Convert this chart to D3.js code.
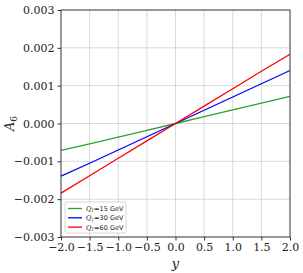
<!DOCTYPE html>
<html>
<head>
<meta charset="utf-8">
<script src="https://cdn.jsdelivr.net/npm/d3@7"></script>
<style>
  body { margin: 0; background: #fff; }
  text { font-family: "DejaVu Serif", serif; }
</style>
</head>
<body>
<div id="chart"></div>
<script>
// Data
var yValues = [-2.0, -1.5, -1.0, -0.5, 0.0, 0.5, 1.0, 1.5, 2.0];
var seriesNames = ["15", "30", "60"];
var seriesColors = ["#2ca02c", "#0000ff", "#ff0000"];
var a6Q15 = [-0.00071, -0.00054, -0.00036, -0.00018, 0, 0.00018, 0.00036, 0.00054, 0.00072];
var a6Q30 = [-0.00139, -0.00105, -0.0007, -0.00035, 0, 0.00035, 0.0007, 0.00105, 0.0014];
var a6Q60 = [-0.00184, -0.00138, -0.00092, -0.00046, 0, 0.00046, 0.00092, 0.00138, 0.00183];
var xTicks = [-2.0, -1.5, -1.0, -0.5, 0.0, 0.5, 1.0, 1.5, 2.0];
var yTicks = [-0.003, -0.002, -0.001, 0.000, 0.001, 0.002, 0.003];

var allSeries = [a6Q15, a6Q30, a6Q60];

var margin = { top: 10, right: 13, bottom: 36, left: 61 },
   width = 303 - margin.left - margin.right,
   height = 273 - margin.top - margin.bottom;

var svg = d3.select("#chart")
   .append("svg")
   .attr("width", 303)
   .attr("height", 273)
   .append("g")
   .attr("transform", "translate(" + margin.left + "," + margin.top + ")");

var xScale = d3.scaleLinear().domain([-2, 2]).range([0, width]);
var yScale = d3.scaleLinear().domain([-0.003, 0.003]).range([height, 0]);

// Grid
svg.append("g")
   .selectAll("line")
   .data(xTicks)
   .enter().append("line")
   .attr("x1", d => xScale(d)).attr("x2", d => xScale(d))
   .attr("y1", 0).attr("y2", height)
   .attr("stroke", "#cfcfcf").attr("stroke-width", 0.8);

svg.append("g")
   .selectAll("line")
   .data(yTicks)
   .enter().append("line")
   .attr("x1", 0).attr("x2", width)
   .attr("y1", d => yScale(d)).attr("y2", d => yScale(d))
   .attr("stroke", "#cfcfcf").attr("stroke-width", 0.8);

// Axes
var xAxis = svg.append("g")
   .attr("transform", "translate(0," + height + ")")
   .call(d3.axisBottom(xScale).tickValues(xTicks).tickSize(3.5).tickPadding(3)
      .tickFormat(d => d3.format(".1f")(d).replace("-", "\u2212")));

var yAxis = svg.append("g")
   .call(d3.axisLeft(yScale).tickValues(yTicks).tickSize(3.5).tickPadding(3)
      .tickFormat(d => d3.format(".3f")(d).replace("-", "\u2212")));

svg.selectAll(".domain").remove();
svg.selectAll(".tick line").attr("stroke", "#000").attr("stroke-width", 0.8);
svg.selectAll(".tick text")
   .attr("fill", "#222")
   .style("font-family", "'DejaVu Serif', serif")
   .style("font-size", "11px");

// Lines
var line = d3.line()
   .x((d, i) => xScale(yValues[i]))
   .y(d => yScale(d));

allSeries.forEach(function (s, i) {
   svg.append("path")
      .datum(s)
      .attr("fill", "none")
      .attr("stroke", seriesColors[i])
      .attr("stroke-width", 1.3)
      .attr("d", line);
});

// Frame
svg.append("rect")
   .attr("x", 0).attr("y", 0)
   .attr("width", width).attr("height", height)
   .attr("fill", "none")
   .attr("stroke", "#333").attr("stroke-width", 0.9);

// Axis labels
svg.append("text")
   .attr("x", width / 2).attr("y", height + 31)
   .attr("text-anchor", "middle")
   .style("font-size", "13px")
   .style("font-style", "italic")
   .attr("fill", "#222")
   .text("y");

var yl = svg.append("text")
   .attr("transform", "translate(-47," + (height / 2) + ") rotate(-90)")
   .attr("text-anchor", "middle")
   .style("font-size", "13px")
   .style("font-style", "italic")
   .attr("fill", "#222");
yl.append("tspan").text("A");
yl.append("tspan").attr("dy", 3).style("font-size", "9px").style("font-style", "normal").text("6");

// Legend
var legend = svg.append("g").attr("transform", "translate(4," + (height - 35) + ")");
legend.append("rect")
   .attr("width", 61).attr("height", 31).attr("rx", 2)
   .attr("fill", "#fff").attr("fill-opacity", 0.85)
   .attr("stroke", "#ccc").attr("stroke-width", 0.8);

seriesNames.forEach(function (name, i) {
   var gy = 6.5 + i * 9.3;
   legend.append("line")
      .attr("x1", 3).attr("x2", 17)
      .attr("y1", gy).attr("y2", gy)
      .attr("stroke", seriesColors[i]).attr("stroke-width", 1.3);
   var t = legend.append("text")
      .attr("x", 21).attr("y", gy + 2.4)
      .style("font-family", "'DejaVu Sans', sans-serif")
      .style("font-size", "6.5px")
      .attr("fill", "#222");
   t.append("tspan").style("font-style", "italic").style("font-family", "'DejaVu Serif', serif").text("Q");
   t.append("tspan").attr("dy", 1.5).style("font-size", "4.5px").style("font-style", "italic").text("T");
   t.append("tspan").attr("dy", -1.5).text("=" + name + " GeV");
});
</script>
</body>
</html>
